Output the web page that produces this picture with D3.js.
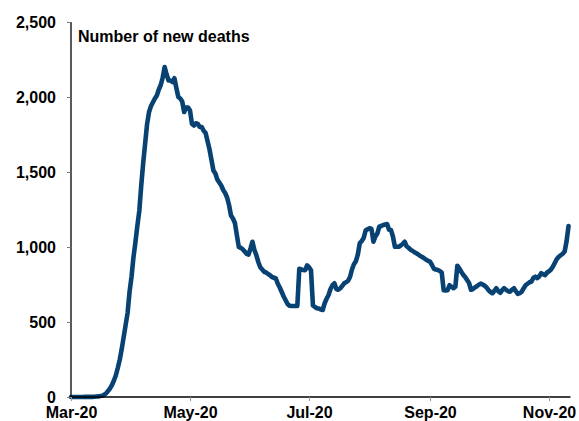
<!DOCTYPE html>
<html>
<head>
<meta charset="utf-8">
<script src="https://cdn.jsdelivr.net/npm/d3@7"></script>
<style>
  html, body { margin: 0; padding: 0; background: #fff; }
  svg { display: block; }
  text { font-family: "Liberation Sans", Arial, sans-serif; font-weight: bold; fill: #000; }
</style>
</head>
<body>
<svg id="chart" width="579" height="421"></svg>
<script>
// Daily new deaths (7-day average), 1 Mar – 11 Nov 2020
const startDate = "2020-03-01";
const deaths = [
  // March
  0, 0, 0, 0, 0, 0, 0, 1, 1, 1, 1, 1, 2, 3, 4, 6, 8, 15, 25, 40, 58, 80, 110, 145, 195, 250, 320, 400, 480, 560, 700,
  // April
  800, 930, 1030, 1140, 1240, 1410, 1560, 1690, 1820, 1900, 1940, 1965, 1990, 2010, 2050, 2080, 2130, 2200, 2150, 2110,
  2110, 2100, 2125, 2060, 2000, 1990, 1970, 1900, 1930, 1930,
  // May
  1910, 1820, 1810, 1825, 1820, 1800, 1800, 1775, 1760, 1705, 1650, 1580, 1510, 1490, 1450, 1430, 1410, 1380, 1360, 1330,
  1280, 1210, 1190, 1160, 1080, 1000, 995, 985, 970, 955, 950,
  // June
  990, 1035, 980, 945, 900, 865, 850, 835, 830, 820, 812, 800, 795, 790, 755, 730, 700, 670, 645, 620,
  608, 607, 607, 607, 607, 855, 850, 847, 845, 878,
  // July
  865, 845, 610, 600, 592, 590, 583, 580, 625, 655, 680, 720, 745, 758, 720, 715, 725, 740, 758, 765,
  775, 800, 850, 885, 905, 950, 1025, 1040, 1060, 1110, 1118,
  // August
  1125, 1120, 1035, 1070, 1090, 1135, 1140, 1147, 1150, 1153, 1115, 1113, 1070, 1002, 1002, 1002, 1010, 1020, 1035, 1005,
  995, 982, 975, 965, 958, 950, 940, 933, 925, 915, 908,
  // September
  902, 880, 855, 850, 847, 840, 830, 712, 710, 712, 745, 735, 725, 735, 875, 858, 835, 815, 800, 780,
  760, 715, 720, 730, 738, 748, 756, 750, 742, 730,
  // October
  712, 700, 692, 708, 725, 705, 695, 712, 725, 715, 705, 702, 715, 725, 705, 687, 692, 702, 725, 745,
  755, 765, 770, 795, 802, 792, 805, 825, 818, 813, 830,
  // November
  838, 850, 870, 895, 920, 935, 945, 955, 970, 1040, 1140
];

const yTicks = [0, 500, 1000, 1500, 2000, 2500];
const xTickDates = ["2020-03-01", "2020-05-01", "2020-07-01", "2020-09-01", "2020-11-01"];
const axisEnd = "2020-11-12";
const title = "Number of new deaths";

const parse = d3.timeParse("%Y-%m-%d");
const t0 = parse(startDate);
const series = deaths.map((v, i) => ({ date: d3.timeDay.offset(t0, i), value: v }));

const svg = d3.select("#chart");
const margin = { left: 71, top: 22 };

const x = d3.scaleTime()
  .domain([t0, parse(axisEnd)])
  .range([margin.left, 570.5]);
const y = d3.scaleLinear()
  .domain([0, 2500])
  .range([397, margin.top]);

// Line
const line = d3.line()
  .x(d => x(d.date))
  .y(d => y(d.value))
  .curve(d3.curveLinear);

svg.append("path")
  .datum(series)
  .attr("fill", "none")
  .attr("stroke", "#074273")
  .attr("stroke-width", 4.6)
  .attr("stroke-linejoin", "round")
  .attr("stroke-linecap", "round")
  .attr("d", line);

// Y axis
const yAxis = d3.axisLeft(y)
  .tickValues(yTicks)
  .tickSize(4)
  .tickPadding(11)
  .tickFormat(d3.format(","));
const gy = svg.append("g")
  .attr("transform", `translate(${margin.left},0)`)
  .call(yAxis);
gy.select(".domain").attr("stroke", "#000").attr("stroke-width", 1.3).attr("d", `M0,${y(2500)}V${y(0)}`);
gy.selectAll(".tick line").attr("stroke", "#777");
gy.selectAll(".tick text")
  .attr("font-size", 16)
  .attr("font-family", "Liberation Sans, Arial, sans-serif")
  .attr("font-weight", "bold")
  .attr("fill", "#000")
  .attr("dy", "0.36em");

// X axis
const xAxis = d3.axisBottom(x)
  .tickValues(xTickDates.map(parse))
  .tickSize(4)
  .tickPadding(6)
  .tickFormat(d3.timeFormat("%b-%y"));
const gx = svg.append("g")
  .attr("transform", `translate(0,${y(0)})`)
  .call(xAxis);
gx.select(".domain").attr("stroke", "#000").attr("stroke-width", 1.3).attr("d", `M${margin.left},0H${x(parse(axisEnd))}`);
gx.selectAll(".tick line").attr("stroke", "#999");
gx.selectAll(".tick text")
  .attr("font-size", 16)
  .attr("font-family", "Liberation Sans, Arial, sans-serif")
  .attr("font-weight", "bold")
  .attr("fill", "#000");

// Title
svg.append("text")
  .attr("x", 78)
  .attr("y", 42)
  .attr("font-size", 16)
  .text(title);
</script>
</body>
</html>
